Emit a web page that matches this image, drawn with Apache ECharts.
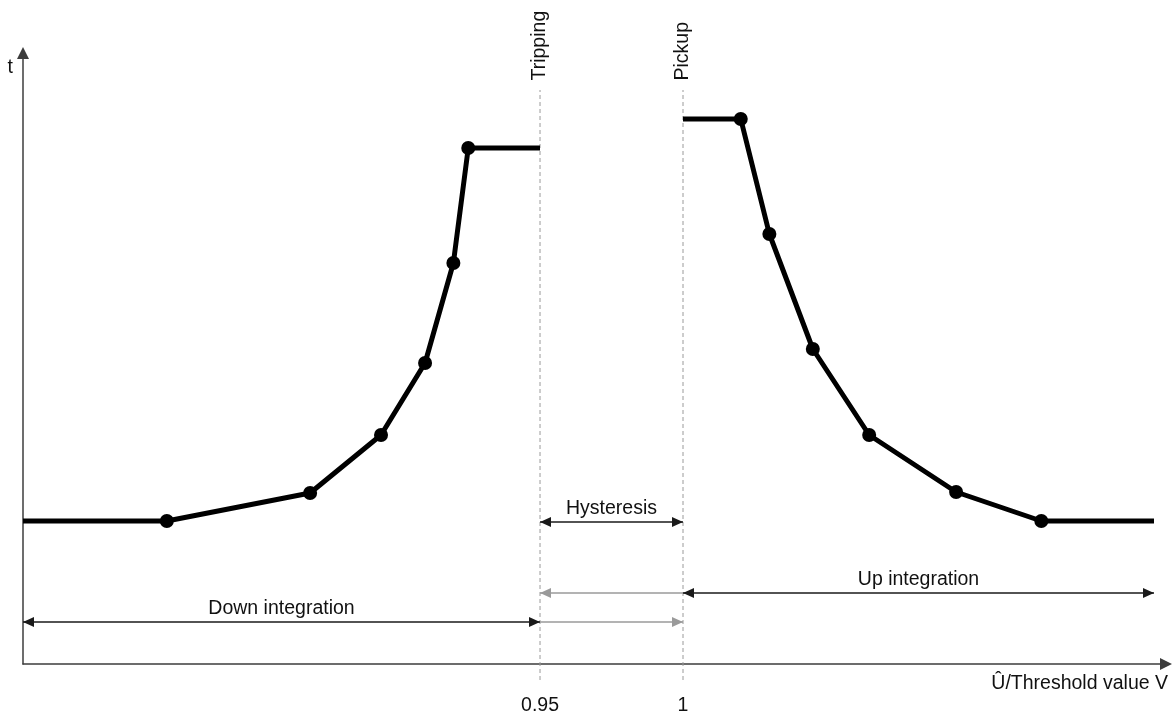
<!DOCTYPE html>
<html>
<head>
<meta charset="utf-8">
<script src="https://cdn.jsdelivr.net/npm/echarts@6/dist/echarts.min.js"></script>
<style>
html,body{margin:0;padding:0;background:#fff;}
#chart{width:1176px;height:717px;}
</style>
</head>
<body>
<div id="chart"></div>
<script>
// ---- data ----
var xTicks = [0.95, 1];
var xTickLabels = ['0.95', '1'];
var markerNames = ['Tripping', 'Pickup'];
var downX = [0.7692, 0.8195, 0.8696, 0.8944, 0.9098, 0.9197, 0.9249, 0.95];
var downT = [1.43, 1.43, 1.71, 2.29, 3.01, 4.01, 5.16, 5.16];
var upX = [1.0, 1.0202, 1.0302, 1.0454, 1.0651, 1.0955, 1.1253, 1.1647];
var upT = [5.45, 5.45, 4.30, 3.15, 2.29, 1.72, 1.43, 1.43];
var guideTop = 5.74, guideBottom = -0.16;
var hystT = 1.42, upIntT = 0.71, downIntT = 0.42;
var xMin = 0.7692, xMax = 1.1689, tMax = 6.11;
var xName = 'Û/Threshold value V', yName = 't';

var FONT = '"Liberation Sans", Arial, sans-serif';
var FS = 19.5;
// solid triangular arrow head whose tip sits at the symbol centre
var HEAD = 'path://M10,10L14.5,20L5.5,20Z M0,0 M20,0';

function curve(xs, ts) {
  return xs.map(function (x, i) {
    var d = { value: [x, ts[i]] };
    if (i === 0 || i === xs.length - 1) d.symbol = 'none';
    return d;
  });
}

function guide(x, name) {
  return {
    type: 'line', clip: false, silent: true,
    symbol: 'circle', symbolSize: 1, showSymbol: true,
    itemStyle: { color: 'rgba(0,0,0,0)' },
    lineStyle: { color: '#9a9a9a', width: 1, type: [4, 3] },
    data: [
      { value: [x, guideBottom] },
      { value: [x, guideTop], label: {
        show: true, formatter: name, position: 'top', distance: 9,
        rotate: 90, align: 'left', verticalAlign: 'middle',
        color: '#111', fontSize: FS, fontFamily: FONT
      } }
    ],
    z: 1
  };
}

var labelStyle = { show: true, position: 'middle', distance: 3, color: '#111', fontSize: FS, fontFamily: FONT };

var option = {
  animation: false,
  backgroundColor: '#fff',
  grid: { left: 23, right: 10, top: 53, bottom: 53 },
  xAxis: {
    type: 'value', min: xMin, max: xMax,
    name: xName, nameLocation: 'end', nameGap: 2,
    nameTextStyle: { color: '#111', fontSize: FS, fontFamily: FONT, align: 'right', verticalAlign: 'top', padding: [10, 0, 0, 0] },
    axisLine: { show: true, symbol: ['none', 'triangle'], symbolSize: [12, 12], lineStyle: { color: '#3c3c3c', width: 1.5 } },
    axisTick: { show: false },
    splitLine: { show: false },
    axisLabel: {
      customValues: xTicks, margin: 32, color: '#111', fontSize: FS, fontFamily: FONT,
      formatter: function (v) { var i = xTicks.indexOf(v); return i >= 0 ? xTickLabels[i] : ''; }
    }
  },
  yAxis: {
    type: 'value', min: 0, max: tMax,
    name: yName, nameLocation: 'end', nameGap: -15,
    nameTextStyle: { color: '#111', fontSize: FS, fontFamily: FONT, align: 'right', verticalAlign: 'middle', padding: [0, 10, 0, 0] },
    axisLine: { show: true, symbol: ['none', 'triangle'], symbolSize: [12, 12], lineStyle: { color: '#3c3c3c', width: 1.5 } },
    axisTick: { show: false },
    splitLine: { show: false },
    axisLabel: { show: false }
  },
  series: [
    guide(xTicks[0], markerNames[0]),
    guide(xTicks[1], markerNames[1]),
    {
      type: 'line', data: curve(downX, downT), symbol: 'circle', symbolSize: 14,
      lineStyle: { color: '#000', width: 5 }, itemStyle: { color: '#000' }, z: 5
    },
    {
      type: 'line', data: curve(upX, upT), symbol: 'circle', symbolSize: 14,
      lineStyle: { color: '#000', width: 5 }, itemStyle: { color: '#000' }, z: 5
    },
    {
      type: 'lines', coordinateSystem: 'cartesian2d', symbol: [HEAD, HEAD], symbolSize: 22,
      lineStyle: { color: '#1a1a1a', width: 1.5, opacity: 1 },
      data: [
        { coords: [[xTicks[0], hystT], [xTicks[1], hystT]], label: Object.assign({ formatter: 'Hysteresis' }, labelStyle) },
        { coords: [[xTicks[1], upIntT], [upX[upX.length - 1], upIntT]], label: Object.assign({ formatter: 'Up integration' }, labelStyle) },
        { coords: [[xMin, downIntT], [xTicks[0], downIntT]], label: Object.assign({ formatter: 'Down integration' }, labelStyle) }
      ],
      z: 4
    },
    {
      type: 'lines', coordinateSystem: 'cartesian2d', symbol: ['none', HEAD], symbolSize: 22,
      lineStyle: { color: '#9a9a9a', width: 1.5, opacity: 1 },
      data: [
        { coords: [[xTicks[1], upIntT], [xTicks[0], upIntT]] },
        { coords: [[xTicks[0], downIntT], [xTicks[1], downIntT]] }
      ],
      z: 3
    }
  ]
};

var chart = echarts.init(document.getElementById('chart'), null, { renderer: 'canvas' });
chart.setOption(option);
</script>
</body>
</html>
